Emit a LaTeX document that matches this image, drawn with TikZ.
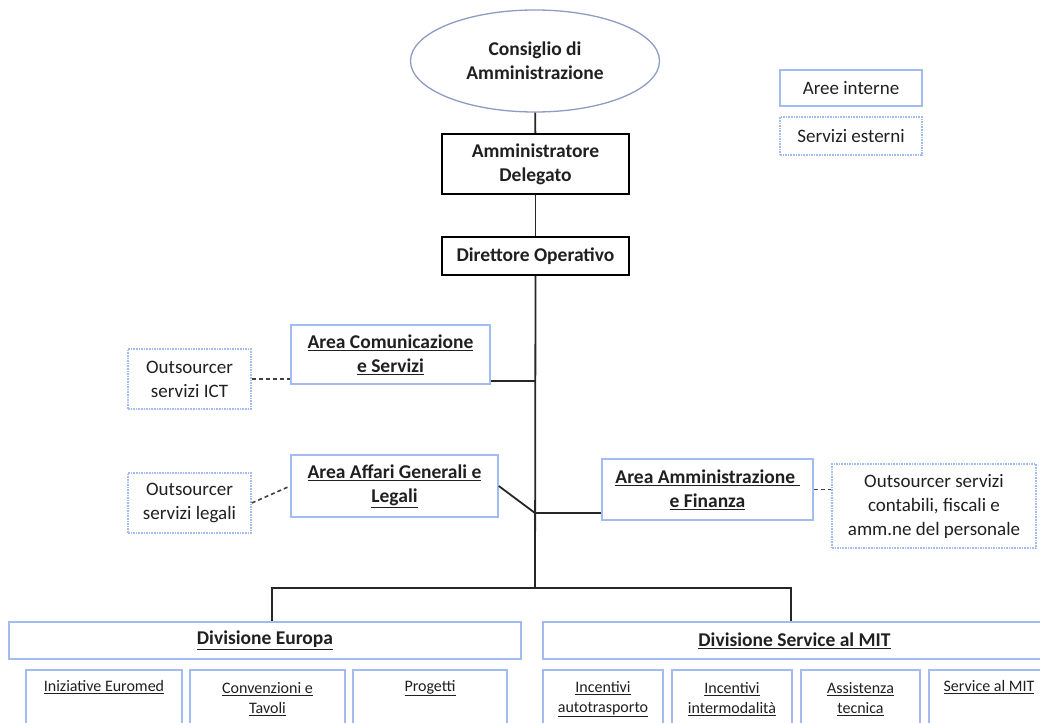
\documentclass[tikz,border=0pt]{standalone}
\usepackage{fontspec}
\setmainfont{Carlito}
\usetikzlibrary{shapes.geometric}
\definecolor{bluebd}{HTML}{A2BCF2}
\definecolor{ellbd}{HTML}{8E9CC4}
\definecolor{txt}{HTML}{202020}
\newcommand\udl[1]{\underline{#1}}
\begin{document}
\begin{tikzpicture}[x=1pt,y=-1pt,
  every node/.style={inner sep=0pt, align=center, text=txt},
  mainfont/.style={font=\fontsize{19.5}{24}\selectfont\bfseries},
  blk/.style={mainfont, draw=black, line width=1.8pt, fill=white},
  blu/.style={mainfont, draw=bluebd, line width=1.6pt, fill=white},
  ext/.style={font=\fontsize{19}{24}\selectfont, draw=bluebd, densely dotted, line width=1.6pt, fill=white},
  sub/.style={font=\fontsize{16}{20}\selectfont, draw=bluebd, line width=1.6pt, fill=white},
  conn/.style={draw=black!85, line width=1.8pt},
  dconn/.style={draw=black!75, line width=1.6pt, dash pattern=on 4pt off 3pt}
]
\useasboundingbox (0,0) rectangle (1040,722);
\clip (0,0) rectangle (1040,722);
\fill[white] (0,0) rectangle (1040,722);

% top chain
\node[ellipse, draw=ellbd, line width=1.3pt, minimum width=249, minimum height=102, mainfont] (cda) at (535,61) {Consiglio di\\Amministrazione};
\node[blk, minimum width=187, minimum height=60] (ad) at (535.5,164) {Amministratore\\Delegato};
\node[blk, minimum width=187, minimum height=38] (do) at (535.5,256) {Direttore Operativo};

% legend
\node[blu, font=\fontsize{19}{20}\selectfont, minimum width=142, minimum height=36] (lai) at (851,88) {Aree interne};
\node[ext, minimum width=142, minimum height=38] (lse) at (851,136) {Servizi esterni};

% areas
\node[blu, minimum width=199, minimum height=59] (acs) at (390.5,354.5) {\udl{Area Comunicazione}\\\udl{e Servizi}};
\node[ext, minimum width=123, minimum height=60] (ict) at (189.5,379) {Outsourcer\\servizi ICT};
\node[blu, minimum width=207, minimum height=62] (aff) at (394.5,486) {\udl{Area Affari Generali e}\\\udl{Legali}};
\node[ext, minimum width=123, minimum height=60] (leg) at (189.5,503) {Outsourcer\\servizi legali};
\node[blu, minimum width=211, minimum height=61] (af) at (707.5,489.5) {\udl{Area Amministrazione\ }\\\udl{e Finanza}};
\node[ext, minimum width=204, minimum height=84] (cont) at (934,506) {Outsourcer servizi\\contabili, fiscali e\\amm.ne del personale};

% divisions
\node[blu, minimum width=512, minimum height=37] (deu) at (265,640.5) {\udl{Divisione Europa}};
\node[blu, minimum width=503, minimum height=37] (dmit) at (794.5,640.5) {\udl{Divisione Service al MIT}};

% sub units
\node[sub, minimum width=156, minimum height=58] (ie) at (104,699) {\udl{Iniziative Euromed}\\\strut};
\node[sub, minimum width=155, minimum height=58] (ct) at (267.5,699) {\udl{Convenzioni e}\\\udl{Tavoli}};
\node[sub, minimum width=154, minimum height=58] (pr) at (430,699) {\udl{Progetti}\\\strut};
\node[sub, minimum width=120, minimum height=58] (ia) at (603,699) {\udl{Incentivi}\\\udl{autotrasporto}};
\node[sub, minimum width=120, minimum height=58] (ii) at (732,699) {\udl{Incentivi}\\\udl{intermodalità}};
\node[sub, minimum width=119, minimum height=58] (at) at (860.5,699) {\udl{Assistenza}\\\udl{tecnica}};
\node[sub, minimum width=120, minimum height=58] (sm) at (989,699) {\udl{Service al MIT}\\\strut};

% junctions
\coordinate (j1) at (535,381);
\coordinate (j2) at (535,513);
\coordinate (jb) at (535,588);
\coordinate (bl) at (272,588);
\coordinate (br) at (791,588);

% connectors
\draw[conn] (cda) -- (ad);
\draw[conn] (ad) -- (do);
\draw[conn] (do.south) -- (jb);
\draw[conn] (j1) -- (acs.east |- j1);
\draw[conn] (aff.east) -- (j2);
\draw[conn] (j2) -- (af.west |- j2);
\draw[conn] (bl |- deu.north) -- (bl) -- (br) -- (br |- dmit.north);

\draw[dconn] (ict.east) -- (ict.east -| acs.west);
\draw[dconn] (leg.east) -- (aff.west);
\draw[dconn] (af.east) -- (af.east -| cont.west);
\end{tikzpicture}
\end{document}
